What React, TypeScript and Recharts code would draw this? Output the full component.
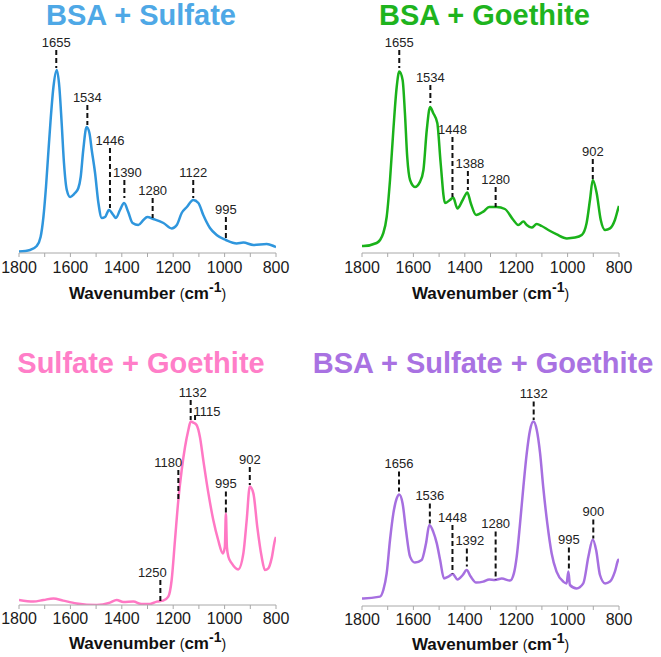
import React from 'react';
import { LineChart, Line, XAxis, YAxis, ReferenceLine, ReferenceDot } from 'recharts';

const FONT = '"Liberation Sans", Arial, Helvetica, sans-serif';

// Axis ticks (wavenumber, cm-1)
const wavenumberTicks = [1800, 1700, 1600, 1500, 1400, 1300, 1200, 1100, 1000, 900, 800];
const labeledTicks = [1800, 1600, 1400, 1200, 1000, 800];

// ---- BSA + Sulfate ----
const bsaSulfateWavenumber = [1800, 1757, 1731, 1716, 1705, 1695, 1686, 1677, 1666, 1653, 1643, 1634, 1625, 1614, 1601, 1582, 1569, 1560, 1550, 1537, 1526, 1517, 1504, 1491, 1478, 1465, 1450, 1433, 1423, 1407, 1391, 1375, 1358, 1336, 1316, 1301, 1277, 1238, 1206, 1186, 1167, 1147, 1122, 1102, 1083, 1057, 1031, 995, 953, 927, 888, 836, 804, 800];
const bsaSulfateIntensity = [0.7, 1.5, 3.5, 8, 18, 33, 50, 66.5, 83, 91.5, 83, 65, 45, 31.5, 28, 30, 32.5, 38, 51.5, 63, 60, 51.5, 40, 25, 17.5, 18, 21.5, 19, 17.5, 21.5, 25, 20.5, 15, 14, 16.5, 18, 17, 15, 12.3, 14, 20, 23, 26.5, 25, 19, 12.5, 9, 6.5, 4.8, 5.2, 4, 4.5, 3.2, 3];
const bsaSulfatePeaks = [1655, 1534, 1446, 1390, 1280, 1122, 995];
const bsaSulfateTops = [101.5, 74, 52.5, 36.5, 27.5, 36.5, 18];
const bsaSulfateBottoms = [92.5, 64, 22.5, 27.5, 17.5, 27.5, 7.5];

// ---- BSA + Goethite ----
const bsaGoethiteWavenumber = [1800, 1795, 1743, 1717, 1704, 1691, 1678, 1665, 1655, 1642, 1633, 1624, 1613, 1594, 1574, 1561, 1548, 1535, 1523, 1507, 1494, 1477, 1458, 1445, 1429, 1408, 1390, 1377, 1356, 1328, 1305, 1276, 1244, 1211, 1192, 1172, 1159, 1140, 1120, 1101, 1075, 1042, 1003, 971, 945, 926, 913, 902, 887, 871, 854, 835, 816, 803, 800];
const bsaGoethiteIntensity = [3.5, 3.5, 5, 10, 18, 36.5, 61.5, 83, 90.7, 86.5, 70, 48, 36.5, 33, 35.7, 41.5, 61.5, 73, 70, 65, 45, 25, 26.5, 27.7, 22.3, 26.5, 30.3, 25, 19, 20.7, 23, 23, 22, 16.5, 14, 15.7, 14, 12.7, 14.5, 13.5, 11.5, 9.3, 7.3, 7.7, 9, 15, 26.5, 36.5, 30, 16.5, 11.5, 12.3, 16.5, 22.3, 23.5];
const bsaGoethitePeaks = [1655, 1534, 1448, 1388, 1280, 902];
const bsaGoethiteTops = [101.5, 84, 58, 41, 33, 47];
const bsaGoethiteBottoms = [92.5, 75, 28, 31.5, 23, 37];

// ---- Sulfate + Goethite ----
const sulfateGoethiteWavenumber = [1800, 1744, 1705, 1666, 1628, 1576, 1498, 1446, 1420, 1394, 1355, 1323, 1290, 1264, 1239, 1219, 1206, 1193, 1180, 1167, 1154, 1141, 1132, 1122, 1109, 1096, 1083, 1063, 1044, 1025, 1007, 999, 995, 991, 985, 972, 947, 927, 914, 902, 888, 873, 856, 843, 830, 817, 804, 800];
const sulfateGoethiteIntensity = [2.5, 1.7, 2.5, 3.3, 2.2, 0.8, 0, 1.2, 2.5, 1.5, 1.7, 0.5, 0.5, 1.7, 2.2, 4.2, 12.5, 32.5, 52.5, 67.5, 79, 87.5, 91.7, 91.2, 90, 84, 72.5, 55.8, 42.5, 32.5, 25.8, 29, 45.8, 29, 24, 20.8, 17.8, 25.8, 42.5, 59.2, 55.8, 39.2, 24.2, 17.5, 18.3, 23.3, 32.5, 34];
const sulfateGoethitePeaks = [1250, 1180, 1132, 1115, 995, 902];
const sulfateGoethiteTops = [12.5, 67.5, 102.5, 95, 56.7, 69];
const sulfateGoethiteBottoms = [1.7, 51.7, 92.5, 91.7, 46, 60];

// ---- BSA + Sulfate + Goethite ----
const allThreeWavenumber = [1800, 1795, 1730, 1717, 1704, 1691, 1678, 1665, 1655, 1642, 1629, 1613, 1594, 1568, 1551, 1538, 1523, 1509, 1496, 1481, 1464, 1447, 1429, 1408, 1393, 1377, 1356, 1328, 1305, 1283, 1256, 1224, 1209, 1198, 1185, 1172, 1159, 1146, 1133, 1120, 1107, 1095, 1079, 1062, 1043, 1017, 1004, 997, 991, 965, 939, 919, 902, 889, 874, 854, 835, 816, 803, 800];
const allThreeIntensity = [3.8, 3.8, 4.7, 8, 16.3, 33, 46.3, 53.8, 55.8, 51.3, 38, 24.7, 21.7, 23, 31.3, 40.5, 37.2, 31.3, 23, 13.8, 14.7, 16, 13.3, 15.5, 18, 14.7, 11.7, 12.2, 13.3, 13, 13.7, 12.7, 16.3, 24.7, 41.3, 59.7, 76.3, 88, 92.2, 88, 76.3, 59.7, 41.3, 26.3, 17.2, 12.2, 11.3, 17.2, 10.5, 8.8, 11.3, 24.7, 33.3, 28, 15.5, 11.3, 12.2, 17.2, 23, 23.5];
const allThreePeaks = [1656, 1536, 1448, 1392, 1280, 1132, 995, 900];
const allThreeTops = [67.2, 51.3, 40.5, 28.8, 37.2, 102.2, 29.3, 43.3];
const allThreeBottoms = [57.2, 41.3, 16.3, 19.7, 13, 93, 18, 33.8];

type PanelProps = {
  title: string;
  titleColor: string;
  lineColor: string;
  left: number;
  top: number;
  width: number;
  height: number;
  margin: { top: number; right: number; bottom: number; left: number };
  axisHeight: number;
  tickGap: number;
  titleGap: number;
  headingY: number;
  headingX: number;
  headingSize: number;
  wavenumbers: number[];
  intensities: number[];
  peaks: number[];
  tops: number[];
  bottoms: number[];
  nudgeX?: Record<number, number>;
  nudgeY?: Record<number, number>;
};

function AxisTitle(props: any) {
  const vb = props.viewBox || {};
  const cx = (vb.x ?? 0) + (vb.width ?? 0) / 2;
  const y = (vb.y ?? 0) + props.gap;
  return (
    <text x={cx} y={y} textAnchor="middle" fontFamily={FONT} fill="#111" fontSize={17}>
      <tspan fontWeight="bold">Wavenumber </tspan>
      <tspan fontSize={14} fontWeight="normal">(</tspan>
      <tspan fontWeight="bold">cm</tspan>
      <tspan fontWeight="bold" fontSize={14} dy={-7}>-1</tspan>
      <tspan fontSize={14} fontWeight="normal" dy={7}>)</tspan>
    </text>
  );
}

function SpectrumPanel(p: PanelProps) {
  const data = p.wavenumbers.map((w, i) => ({ w, a: p.intensities[i] }));
  return (
    <>
      <div
        style={{
          position: 'absolute',
          left: p.headingX - 200,
          top: p.headingY,
          width: 400,
          textAlign: 'center',
          fontFamily: FONT,
          fontWeight: 'bold',
          fontSize: p.headingSize,
          lineHeight: 1.1,
          color: p.titleColor,
          whiteSpace: 'nowrap',
        }}
      >
        {p.title}
      </div>
      <div style={{ position: 'absolute', left: p.left, top: p.top }}>
        <LineChart width={p.width} height={p.height} data={data} margin={p.margin}>
          <XAxis
            dataKey="w"
            type="number"
            domain={[800, 1800]}
            reversed
            allowDataOverflow
            ticks={wavenumberTicks}
            interval={0}
            tickFormatter={(v: number) => (labeledTicks.includes(v) ? String(v) : '')}
            tickSize={4}
            tickMargin={p.tickGap}
            stroke="#a8a8a8"
            tick={{ fill: '#1a1a1a', fontSize: 16, fontFamily: FONT }}
            height={p.axisHeight}
            label={{ content: (lp: any) => <AxisTitle {...lp} gap={p.titleGap} /> }}
          />
          <YAxis hide type="number" domain={[0, 110]} allowDataOverflow />
          <Line
            type="monotone"
            dataKey="a"
            stroke={p.lineColor}
            strokeWidth={2.5}
            dot={false}
            isAnimationActive={false}
          />
          {p.peaks.map((pk, i) => (
            <ReferenceLine
              key={'l' + pk}
              segment={[{ x: pk, y: p.tops[i] }, { x: pk, y: p.bottoms[i] }]}
              stroke="#111"
              strokeWidth={2}
              strokeDasharray="5 3"
              ifOverflow="visible"
            />
          ))}
          {p.peaks.map((pk, i) => (
            <ReferenceDot
              key={'d' + pk}
              x={pk}
              y={p.tops[i] + (p.nudgeY && p.nudgeY[pk] !== undefined ? p.nudgeY[pk] : 4)}
              r={1}
              ifOverflow="visible"
              shape={(sp: any) => (
                <text
                  x={sp.cx + ((p.nudgeX && p.nudgeX[pk]) || 0)}
                  y={sp.cy}
                  textAnchor="middle"
                  dominantBaseline="central"
                  fontFamily={FONT}
                  fontSize={13}
                  fill="#222"
                >
                  {String(pk)}
                </text>
              )}
            />
          ))}
        </LineChart>
      </div>
    </>
  );
}

export default function App() {
  return (
    <div style={{ position: 'absolute', left: 0, top: 0, width: 661, height: 657, background: '#fff', overflow: 'hidden' }}>
      <SpectrumPanel
        title="BSA + Sulfate"
        titleColor="#4ea8e6"
        lineColor="#2f96dd"
        left={0}
        top={0}
        width={330}
        height={320}
        margin={{ top: 33, right: 54, bottom: 7, left: 19 }}
        axisHeight={60}
        tickGap={5}
        titleGap={46}
        headingY={0}
        headingX={141}
        headingSize={29}
        wavenumbers={bsaSulfateWavenumber}
        intensities={bsaSulfateIntensity}
        peaks={bsaSulfatePeaks}
        tops={bsaSulfateTops}
        bottoms={bsaSulfateBottoms}
        nudgeX={{ 1390: 3 }}
      />
      <SpectrumPanel
        title="BSA + Goethite"
        titleColor="#1eb41e"
        lineColor="#1ab21a"
        left={330}
        top={0}
        width={331}
        height={320}
        margin={{ top: 33, right: 42, bottom: 7, left: 32 }}
        axisHeight={60}
        tickGap={5}
        titleGap={46}
        headingY={0}
        headingX={484.5}
        headingSize={29}
        wavenumbers={bsaGoethiteWavenumber}
        intensities={bsaGoethiteIntensity}
        peaks={bsaGoethitePeaks}
        tops={bsaGoethiteTops}
        bottoms={bsaGoethiteBottoms}
        nudgeX={{ 1388: 2 }}
      />
      <SpectrumPanel
        title="Sulfate + Goethite"
        titleColor="#ff7ec8"
        lineColor="#ff78c4"
        left={0}
        top={320}
        width={330}
        height={337}
        margin={{ top: 65, right: 54, bottom: 2, left: 19 }}
        axisHeight={50}
        tickGap={4}
        titleGap={44}
        headingY={348}
        headingX={141}
        headingSize={29}
        wavenumbers={sulfateGoethiteWavenumber}
        intensities={sulfateGoethiteIntensity}
        peaks={sulfateGoethitePeaks}
        tops={sulfateGoethiteTops}
        bottoms={sulfateGoethiteBottoms}
        nudgeX={{ 1250: -8, 1180: -10, 1132: 2, 1115: 12 }}
        nudgeY={{ 1115: 2 }}
      />
      <SpectrumPanel
        title="BSA + Sulfate + Goethite"
        titleColor="#a972e2"
        lineColor="#a66fe0"
        left={330}
        top={320}
        width={331}
        height={337}
        margin={{ top: 66, right: 42, bottom: 1, left: 32 }}
        axisHeight={50}
        tickGap={4}
        titleGap={44}
        headingY={348}
        headingX={483}
        headingSize={29}
        wavenumbers={allThreeWavenumber}
        intensities={allThreeIntensity}
        peaks={allThreePeaks}
        tops={allThreeTops}
        bottoms={allThreeBottoms}
        nudgeX={{ 1392: 3 }}
      />
    </div>
  );
}
